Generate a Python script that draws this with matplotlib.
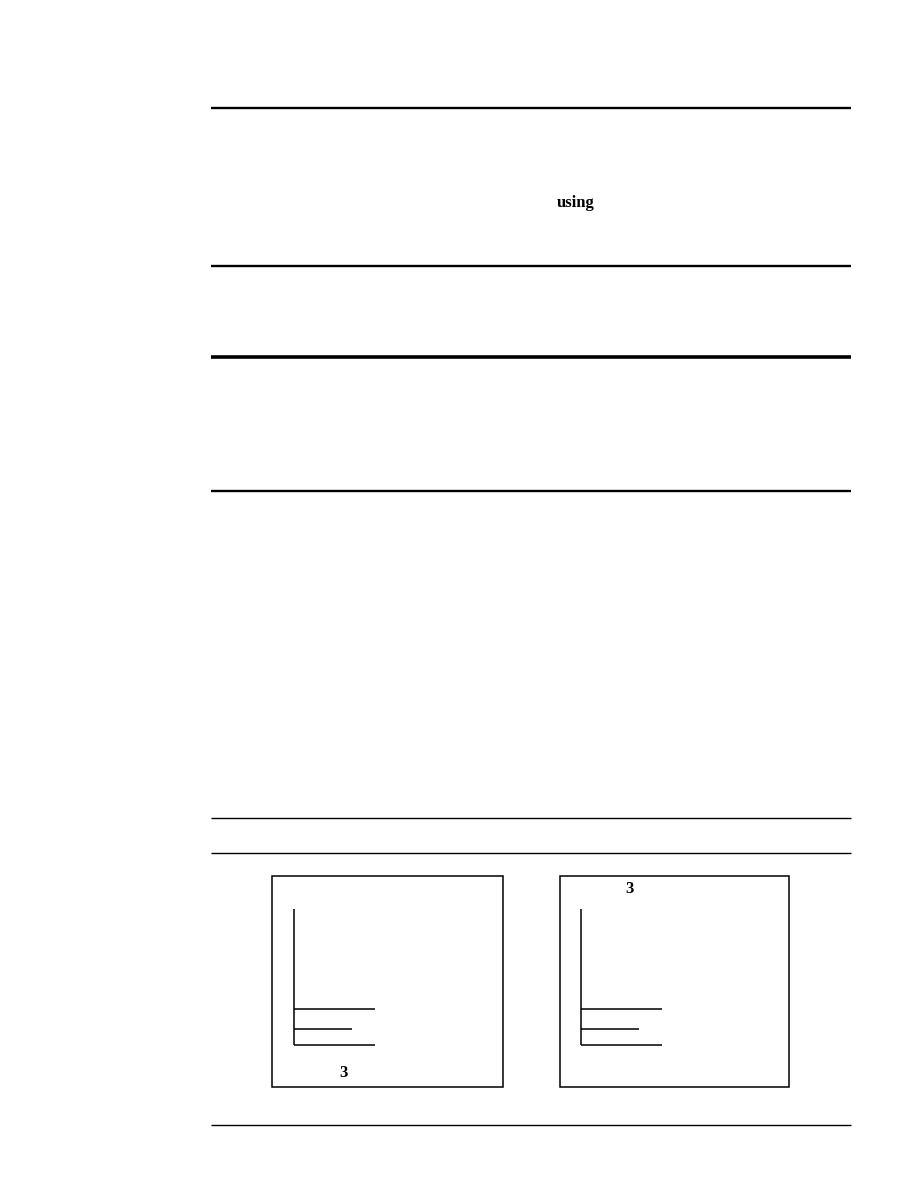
import matplotlib
matplotlib.use('Agg')
import matplotlib.pyplot as plt
from matplotlib.patches import Rectangle

# page rules (pixel rows of the scanned page)
rule_y = [108, 266, 357, 491, 818, 853, 1125]
rule_w = [1.7, 1.7, 2.6, 1.7, 1.0, 1.0, 1.0]
rule_x0, rule_x1 = 211, 851

# the two framed sketches
box_x = [272, 560]
box_w = [231, 229]
box_top, box_bot = 876, 1087

# L bracket inside each frame, offsets from the frame's left edge
stem_dx = [22, 21]
stem_top, stem_bot = 909, 1045
bar_y = [1009, 1029, 1045]
bar_len = [81, 58, 81]

# labels
label_txt = ['3', '3']
label_xy = [(343, 1073), (629, 889)]

fig = plt.figure(figsize=(9.18, 11.88), dpi=100)
ax = fig.add_axes([0, 0, 1, 1])
ax.set_xlim(0, 918)
ax.set_ylim(1188, 0)
ax.axis('off')

for y, w in zip(rule_y, rule_w):
    ax.plot([rule_x0, rule_x1], [y, y], color='black', lw=w, solid_capstyle='butt')

ax.text(576, 207, 'using', fontsize=12, fontweight='bold', family='Liberation Serif',
        ha='center', va='baseline')

for i in range(2):
    ax.add_patch(Rectangle((box_x[i], box_top), box_w[i], box_bot - box_top,
                           fill=False, edgecolor='black', lw=1.1))
    sx = box_x[i] + stem_dx[i]
    ax.plot([sx, sx], [stem_top, stem_bot], color='black', lw=1.1, solid_capstyle='butt')
    for y, L in zip(bar_y, bar_len):
        ax.plot([sx, sx + L], [y, y], color='black', lw=1.1, solid_capstyle='butt')
    ax.text(label_xy[i][0], label_xy[i][1], label_txt[i], fontsize=12, fontweight='bold',
            family='Liberation Serif', ha='center', va='center')

fig.savefig('out.png', dpi=100, facecolor='white')
